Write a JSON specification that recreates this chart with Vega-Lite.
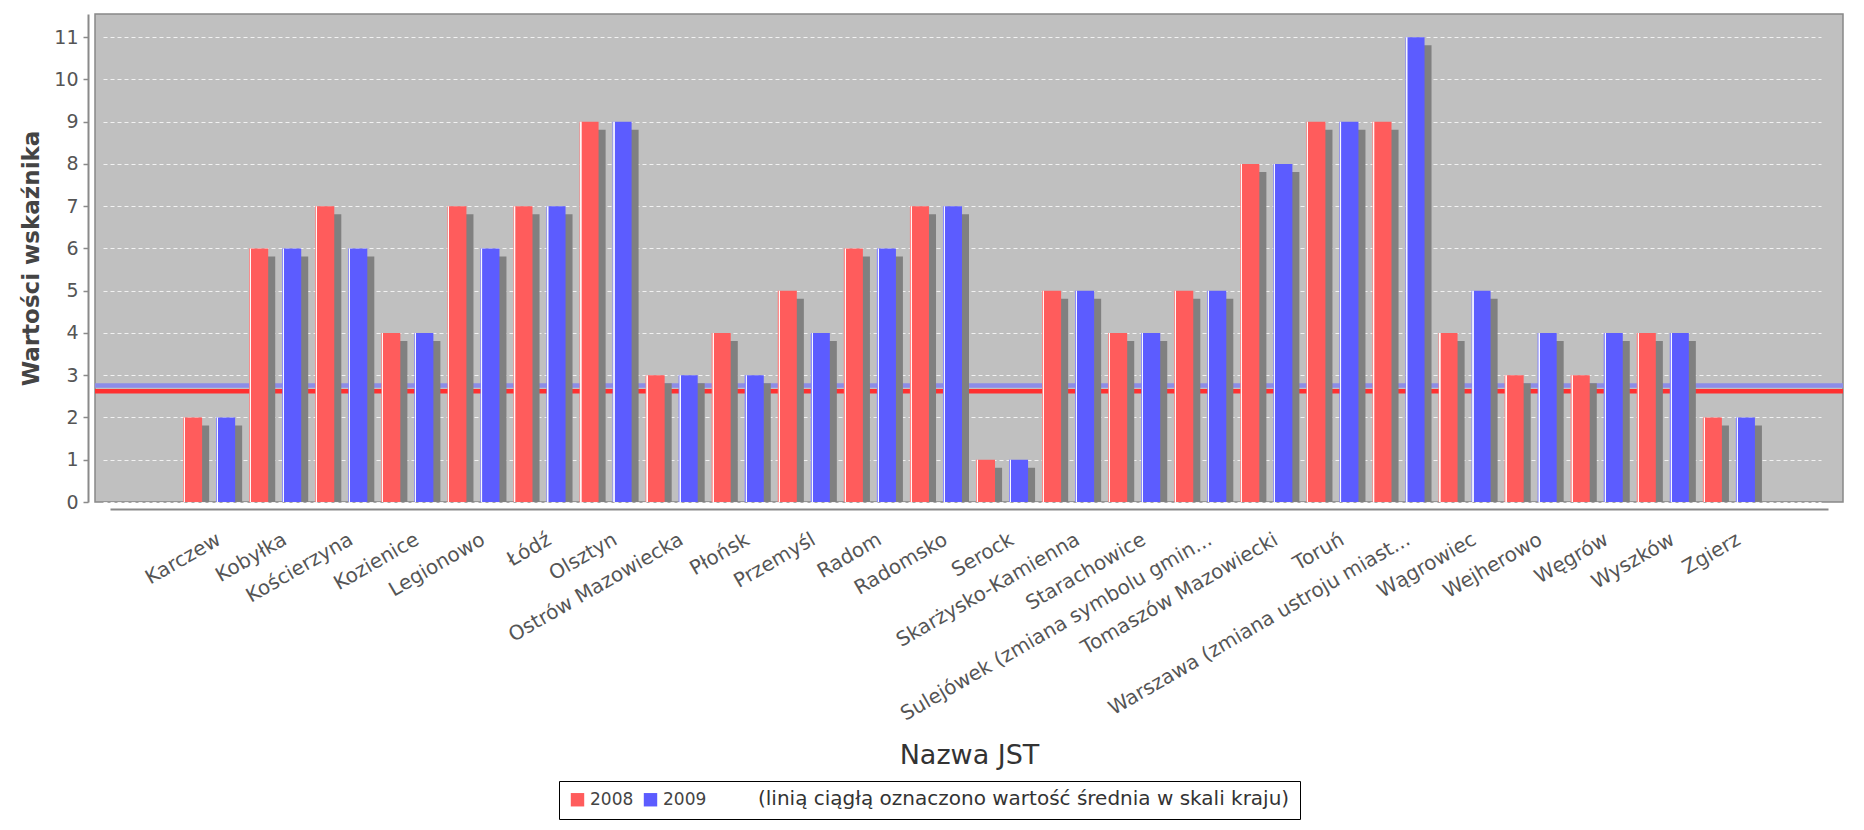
{
  "$schema": "https://vega.github.io/schema/vega-lite/v6.json",
  "width": 1748,
  "height": 488,
  "autosize": {"type": "none"},
  "padding": {"left": 95, "top": 14, "right": 21, "bottom": 328},
  "background": "white",
  "config": {
    "font": "DejaVu Sans",
    "view": {"fill": "#c0c0c0", "stroke": "#888888", "strokeWidth": 1.5},
    "axisX": {
      "domainColor": "#8a8a8a", "domainWidth": 2, "ticks": false, "grid": false,
      "labelAngle": -30, "labelAlign": "right", "labelBaseline": "top",
      "labelFontSize": 20, "labelColor": "#555555", "labelPadding": 20, "labelOffset": 5,
      "labelOverlap": false, "labelLimit": 0, "offset": 7,
      "titleFontSize": 27, "titleFontWeight": "normal", "titleColor": "#333333", "titlePadding": 33
    },
    "axisY": {
      "domainColor": "#8a8a8a", "domainWidth": 2, "tickColor": "#8a8a8a", "tickSize": 5, "tickWidth": 1.5,
      "labelFontSize": 19, "labelColor": "#555555", "labelPadding": 5, "offset": 7, "tickCount": 12,
      "grid": true, "gridColor": "#f2f2f2", "gridDash": [4, 3], "gridWidth": 1,
      "titleFontSize": 23, "titleFontWeight": "bold", "titleColor": "#444444", "titlePadding": 10
    }
  },
  "datasets": {
    "slupki": [
      {"jst": "Karczew", "rok": "2008", "wartosc": 2}, {"jst": "Karczew", "rok": "2009", "wartosc": 2},
      {"jst": "Kobyłka", "rok": "2008", "wartosc": 6}, {"jst": "Kobyłka", "rok": "2009", "wartosc": 6},
      {"jst": "Kościerzyna", "rok": "2008", "wartosc": 7}, {"jst": "Kościerzyna", "rok": "2009", "wartosc": 6},
      {"jst": "Kozienice", "rok": "2008", "wartosc": 4}, {"jst": "Kozienice", "rok": "2009", "wartosc": 4},
      {"jst": "Legionowo", "rok": "2008", "wartosc": 7}, {"jst": "Legionowo", "rok": "2009", "wartosc": 6},
      {"jst": "Łódź", "rok": "2008", "wartosc": 7}, {"jst": "Łódź", "rok": "2009", "wartosc": 7},
      {"jst": "Olsztyn", "rok": "2008", "wartosc": 9}, {"jst": "Olsztyn", "rok": "2009", "wartosc": 9},
      {"jst": "Ostrów Mazowiecka", "rok": "2008", "wartosc": 3}, {"jst": "Ostrów Mazowiecka", "rok": "2009", "wartosc": 3},
      {"jst": "Płońsk", "rok": "2008", "wartosc": 4}, {"jst": "Płońsk", "rok": "2009", "wartosc": 3},
      {"jst": "Przemyśl", "rok": "2008", "wartosc": 5}, {"jst": "Przemyśl", "rok": "2009", "wartosc": 4},
      {"jst": "Radom", "rok": "2008", "wartosc": 6}, {"jst": "Radom", "rok": "2009", "wartosc": 6},
      {"jst": "Radomsko", "rok": "2008", "wartosc": 7}, {"jst": "Radomsko", "rok": "2009", "wartosc": 7},
      {"jst": "Serock", "rok": "2008", "wartosc": 1}, {"jst": "Serock", "rok": "2009", "wartosc": 1},
      {"jst": "Skarżysko-Kamienna", "rok": "2008", "wartosc": 5}, {"jst": "Skarżysko-Kamienna", "rok": "2009", "wartosc": 5},
      {"jst": "Starachowice", "rok": "2008", "wartosc": 4}, {"jst": "Starachowice", "rok": "2009", "wartosc": 4},
      {"jst": "Sulejówek (zmiana symbolu gmin...", "rok": "2008", "wartosc": 5}, {"jst": "Sulejówek (zmiana symbolu gmin...", "rok": "2009", "wartosc": 5},
      {"jst": "Tomaszów Mazowiecki", "rok": "2008", "wartosc": 8}, {"jst": "Tomaszów Mazowiecki", "rok": "2009", "wartosc": 8},
      {"jst": "Toruń", "rok": "2008", "wartosc": 9}, {"jst": "Toruń", "rok": "2009", "wartosc": 9},
      {"jst": "Warszawa (zmiana ustroju miast...", "rok": "2008", "wartosc": 9}, {"jst": "Warszawa (zmiana ustroju miast...", "rok": "2009", "wartosc": 11},
      {"jst": "Wągrowiec", "rok": "2008", "wartosc": 4}, {"jst": "Wągrowiec", "rok": "2009", "wartosc": 5},
      {"jst": "Wejherowo", "rok": "2008", "wartosc": 3}, {"jst": "Wejherowo", "rok": "2009", "wartosc": 4},
      {"jst": "Węgrów", "rok": "2008", "wartosc": 3}, {"jst": "Węgrów", "rok": "2009", "wartosc": 4},
      {"jst": "Wyszków", "rok": "2008", "wartosc": 4}, {"jst": "Wyszków", "rok": "2009", "wartosc": 4},
      {"jst": "Zgierz", "rok": "2008", "wartosc": 2}, {"jst": "Zgierz", "rok": "2009", "wartosc": 2}
    ],
    "srednie": [
      {"seria": "średnia 2008", "wartosc": 2.62},
      {"seria": "średnia 2009", "wartosc": 2.76}
    ]
  },
  "resolve": {"scale": {"xOffset": "independent"}},
  "layer": [
    {
      "data": {"name": "srednie"},
      "mark": {"type": "rule", "strokeWidth": 4.5},
      "encoding": {
        "y": {"field": "wartosc", "type": "quantitative", "title": "Wartości wskaźnika", "scale": {"domain": [0, 11.55], "nice": false}},
        "stroke": {"field": "seria", "type": "nominal", "scale": {"domain": ["średnia 2008", "średnia 2009"], "range": ["#ff3030", "#8c8ce8"]}, "legend": null}
      }
    },
    {
      "data": {"name": "slupki"},
      "mark": {"type": "bar", "color": "#808080", "yOffset": 8, "clip": true},
      "encoding": {
        "x": {"field": "jst", "type": "nominal", "sort": null, "title": "Nazwa JST", "scale": {"paddingInner": 0, "paddingOuter": 1, "rangeMin": 15, "rangeMax": 1733}},
        "xOffset": {"field": "rok", "type": "nominal", "scale": {"paddingInner": 0.424, "paddingOuter": 0.2135, "align": 1}},
        "y": {"field": "wartosc", "type": "quantitative", "title": "Wartości wskaźnika", "scale": {"domain": [0, 11.55], "nice": false}}
      }
    },
    {
      "data": {"name": "slupki"},
      "mark": {"type": "bar"},
      "encoding": {
        "x": {"field": "jst", "type": "nominal", "sort": null, "title": "Nazwa JST", "scale": {"paddingInner": 0, "paddingOuter": 1, "rangeMin": 15, "rangeMax": 1733}},
        "xOffset": {"field": "rok", "type": "nominal", "scale": {"paddingInner": 0.424, "paddingOuter": 0.212}},
        "y": {"field": "wartosc", "type": "quantitative", "title": "Wartości wskaźnika", "scale": {"domain": [0, 11.55], "nice": false}},
        "color": {
          "field": "rok", "type": "nominal",
          "scale": {"domain": ["2008", "2009"], "range": ["#ff5c5c", "#5c5cff"]},
          "legend": {
            "orient": "none", "legendX": 464, "legendY": 767, "direction": "horizontal",
            "title": "(linią ciągłą oznaczono wartość średnia w skali kraju)",
            "titleOrient": "right", "titleFontSize": 20, "titleFontWeight": "normal", "titleColor": "#333333",
            "titlePadding": 52, "titleLimit": 900,
            "labelFontSize": 17, "labelColor": "#444444", "labelOffset": 4,
            "symbolType": "square", "symbolSize": 180, "symbolStrokeWidth": 0,
            "columnPadding": 8,
            "strokeColor": "#000000", "padding": 10
          }
        }
      }
    },
    {
      "data": {"name": "slupki"},
      "mark": {
        "type": "bar",
        "fill": {
          "gradient": "linear", "x1": 0, "x2": 1, "y1": 0, "y2": 0,
          "stops": [
            {"offset": 0, "color": "rgba(255,255,255,0.25)"},
            {"offset": 0.04, "color": "rgba(255,255,255,0.3)"},
            {"offset": 0.05, "color": "rgba(255,255,255,0.95)"},
            {"offset": 0.1, "color": "rgba(255,255,255,0.95)"},
            {"offset": 0.11, "color": "rgba(255,255,255,0)"},
            {"offset": 1, "color": "rgba(255,255,255,0)"}
          ]
        }
      },
      "encoding": {
        "x": {"field": "jst", "type": "nominal", "sort": null, "title": "Nazwa JST", "scale": {"paddingInner": 0, "paddingOuter": 1, "rangeMin": 15, "rangeMax": 1733}},
        "xOffset": {"field": "rok", "type": "nominal", "scale": {"paddingInner": 0.424, "paddingOuter": 0.212}},
        "y": {"field": "wartosc", "type": "quantitative", "title": "Wartości wskaźnika", "scale": {"domain": [0, 11.55], "nice": false}}
      }
    }
  ]
}
